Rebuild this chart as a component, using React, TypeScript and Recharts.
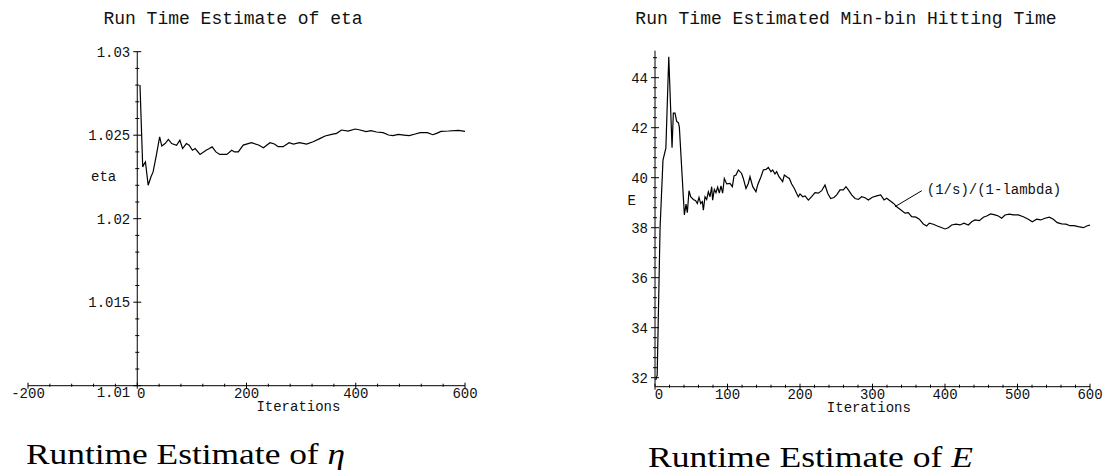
import React from 'react';
import { LineChart, Line, XAxis, YAxis, ReferenceLine, ReferenceDot } from 'recharts';

const MONO = '"Liberation Mono", "DejaVu Sans Mono", monospace';
const SERIF = '"Liberation Serif", "DejaVu Serif", serif';

// left panel: running estimate of eta
const etaIterations = [5, 10, 13, 15, 20, 25, 29, 35, 41, 45, 51, 57, 63, 72, 78, 83, 90, 95, 101, 106, 115, 126, 132, 137, 144, 151, 164, 173, 178, 185, 194, 209, 222, 231, 243, 251, 258, 267, 278, 286, 297, 310, 322, 335, 344, 356, 365, 374, 386, 399, 408, 419, 428, 438, 450, 460, 468, 478, 488, 498, 509, 518, 531, 541, 548, 556, 570, 588, 600];
const etaValues = [1.028, 1.0231, 1.0233, 1.0234, 1.022, 1.0225, 1.0228, 1.0238, 1.0249, 1.02435, 1.0245, 1.02475, 1.0245, 1.0244, 1.0247, 1.0242, 1.0245, 1.0244, 1.0241, 1.0242, 1.02385, 1.0241, 1.0242, 1.0243, 1.024, 1.02385, 1.02385, 1.0241, 1.024, 1.024, 1.02441, 1.02455, 1.02441, 1.02425, 1.02455, 1.02447, 1.02431, 1.02431, 1.02455, 1.02447, 1.02455, 1.02447, 1.02461, 1.02481, 1.02495, 1.02505, 1.02511, 1.02531, 1.02525, 1.02537, 1.02531, 1.02521, 1.02527, 1.02519, 1.02515, 1.02501, 1.02497, 1.02505, 1.02501, 1.02497, 1.02507, 1.02515, 1.02515, 1.02503, 1.02511, 1.02523, 1.02525, 1.02529, 1.02523];

const etaXTicks = [-200, -160, -120, -80, -40, 0, 40, 80, 120, 160, 200, 240, 280, 320, 360, 400, 440, 480, 520, 560, 600];
const etaXMajor = [-200, 0, 200, 400, 600];
const etaYTicks = [1.01, 1.011, 1.012, 1.013, 1.014, 1.015, 1.016, 1.017, 1.018, 1.019, 1.02, 1.021, 1.022, 1.023, 1.024, 1.025, 1.026, 1.027, 1.028, 1.029, 1.03];
const etaYMajor = [1.01, 1.015, 1.02, 1.025, 1.03];

// right panel: running estimate of E
const eIterations = [1, 3, 7, 11, 15, 19, 23.5, 25.3, 27.6, 29.9, 32.2, 33.6, 40.5, 42.8, 44.6, 46.9, 49.2, 52.9, 56.1, 58.4, 60.7, 63, 65.3, 66.7, 69, 71.3, 73.6, 75.9, 78.2, 79.5, 81.8, 84.1, 86.4, 88.7, 91, 93.3, 95.6, 98.9, 103.4, 106.7, 109, 111.7, 115, 119.5, 121.8, 125.5, 128.7, 131, 134.8, 139.3, 141.6, 146.2, 149.4, 153.1, 156.3, 160, 162.3, 165.5, 167.8, 171, 176.1, 178.4, 181.6, 185.3, 188.5, 192.2, 195.4, 197.7, 200, 203.7, 206.9, 211.5, 216.1, 220.7, 225.3, 229.9, 234.5, 238.2, 242.3, 246.9, 250.6, 255.2, 259.8, 263.4, 266.7, 271.3, 275.9, 280.5, 285.1, 289.7, 294.3, 299.8, 305.8, 311.3, 315.9, 319.6, 324.1, 328.7, 334.2, 339.3, 344.8, 349.4, 354, 360, 364.6, 370.1, 374.7, 378.4, 383.9, 389.4, 394, 400, 404.6, 409.2, 415.2, 420.7, 426.2, 432.2, 436.8, 441.4, 447.4, 452.9, 457.5, 463, 469, 473.6, 478.2, 482.8, 488.7, 494.3, 501.1, 508, 514.9, 520.4, 526.4, 532, 537.9, 543.9, 549.4, 554.9, 561, 566.9, 572.4, 577.9, 583.9, 590.8, 596.3, 600];
const eValues = [31.9, 32.1, 38.0, 40.7, 41.18, 44.84, 41.2, 42.58, 42.58, 42.25, 42.2, 42.02, 38.51, 38.94, 38.6, 39.48, 39.24, 39.13, 39.08, 38.97, 39.21, 38.97, 39.04, 38.7, 39.24, 39.13, 39.44, 39.24, 39.64, 39.1, 39.53, 39.4, 39.62, 39.38, 39.67, 39.38, 39.97, 39.75, 39.77, 39.64, 40.07, 40.11, 40.31, 40.17, 39.97, 39.57, 39.77, 40.04, 39.64, 39.44, 39.71, 40.04, 40.31, 40.33, 40.41, 40.24, 40.31, 40.15, 40.24, 40.04, 39.84, 40.11, 40.04, 39.97, 39.75, 39.57, 39.37, 39.24, 39.35, 39.24, 39.27, 39.1, 39.24, 39.4, 39.38, 39.48, 39.71, 39.38, 39.17, 39.21, 39.31, 39.51, 39.51, 39.64, 39.51, 39.31, 39.17, 39.13, 39.24, 39.2, 39.11, 39.22, 39.27, 39.31, 39.11, 39.18, 39.08, 38.98, 38.82, 38.71, 38.58, 38.6, 38.44, 38.42, 38.34, 38.15, 38.07, 38.18, 38.14, 38.07, 38.02, 37.95, 38.0, 38.11, 38.14, 38.11, 38.18, 38.11, 38.24, 38.31, 38.28, 38.42, 38.47, 38.55, 38.51, 38.47, 38.38, 38.51, 38.54, 38.51, 38.51, 38.44, 38.34, 38.24, 38.34, 38.31, 38.38, 38.42, 38.34, 38.2, 38.15, 38.14, 38.08, 38.08, 38.04, 38.0, 38.08, 38.1];

const eXTicks = [0, 20, 40, 60, 80, 100, 120, 140, 160, 180, 200, 220, 240, 260, 280, 300, 320, 340, 360, 380, 400, 420, 440, 460, 480, 500, 520, 540, 560, 580, 600];
const eXMajor = [0, 100, 200, 300, 400, 500, 600];
const eYTicks = [32, 32.4, 32.8, 33.2, 33.6, 34, 34.4, 34.8, 35.2, 35.6, 36, 36.4, 36.8, 37.2, 37.6, 38, 38.4, 38.8, 39.2, 39.6, 40, 40.4, 40.8, 41.2, 41.6, 42, 42.4, 42.8, 43.2, 43.6, 44, 44.4, 44.8];
const eYMajor = [32, 34, 36, 38, 40, 42, 44];

const etaData = etaIterations.map((x, i) => ({ x, y: etaValues[i] }));
const eData = eIterations.map((x, i) => ({ x, y: eValues[i] }));

const INK = '#111';

const makeXTick = (majors: number[]) => (props: any) => {
  const { x, y, payload } = props;
  const v = payload.value;
  const major = majors.includes(v);
  return (
    <g>
      <line x1={x} x2={x} y1={major ? y - 3 : y - 2} y2={major ? y + 3 : y + 1} stroke="#000" />
      {major && (
        <text x={v === 0 ? x + 4 : x} y={y + 12} textAnchor="middle" fontFamily={MONO} fontSize={14} fill={INK}>
          {v}
        </text>
      )}
    </g>
  );
};

const makeYTick = (majors: number[], bottom: number) => (props: any) => {
  const { x, y, payload } = props;
  const v = payload.value;
  const major = majors.includes(v);
  return (
    <g>
      <line x1={major ? x - 4 : x - 2} x2={major ? x + 4 : x + 2} y1={y} y2={y} stroke="#000" />
      {major && (
        <text x={x - 7} y={v === bottom ? y + 11 : y + 5} textAnchor="end" fontFamily={MONO} fontSize={14} fill={INK}>
          {v}
        </text>
      )}
    </g>
  );
};

const etaYTick = makeYTick(etaYMajor, 1.01);

const textShape = (label: string, dx: number, dy: number, anchor: string) => (props: any) => (
  <text x={props.cx + dx} y={props.cy + dy} textAnchor={anchor} fontFamily={MONO} fontSize={14} fill={INK}>
    {label}
  </text>
);

const EtaChart = () => (
  <LineChart width={480} height={420} data={etaData} margin={{ top: 51.7, right: 15, bottom: 4.3, left: 28 }}>
    <XAxis
      dataKey="x"
      type="number"
      domain={[-200, 600]}
      ticks={etaXTicks}
      interval={0}
      tickSize={0}
      tickMargin={0}
      tickLine={false}
      axisLine={{ stroke: '#000' }}
      tick={makeXTick(etaXMajor)}
      height={30}
    />
    <YAxis hide type="number" domain={[1.01, 1.03]} />
    <ReferenceLine
      segment={[{ x: 0, y: 1.01 }, { x: 0, y: 1.03 }]}
      stroke="#000"
      ifOverflow="visible"
    />
    {etaYTicks.map((v) => (
      <ReferenceDot
        key={v}
        x={0}
        y={v}
        ifOverflow="visible"
        shape={(p: any) => etaYTick({ x: p.cx, y: p.cy, payload: { value: v } })}
      />
    ))}
    <ReferenceDot x={0} y={1.0225} ifOverflow="visible" shape={textShape('eta', -21, 4, 'end')} />
    <ReferenceDot x={295} y={1.01} ifOverflow="visible" shape={textShape('Iterations', 0, 25, 'middle')} />
    <Line type="linear" dataKey="y" stroke="#000" strokeWidth={1.2} dot={false} isAnimationActive={false} />
  </LineChart>
);

const EChart = () => (
  <LineChart width={525} height={420} data={eData} margin={{ top: 50.7, right: 15, bottom: 3.3, left: 0 }}>
    <XAxis
      dataKey="x"
      type="number"
      domain={[0, 600]}
      ticks={eXTicks}
      interval={0}
      tickSize={0}
      tickMargin={0}
      tickLine={false}
      axisLine={{ stroke: '#000' }}
      tick={makeXTick(eXMajor)}
      height={30}
    />
    <YAxis
      type="number"
      domain={[31.64, 45.08]}
      ticks={eYTicks}
      interval={0}
      tickSize={0}
      tickMargin={0}
      tickLine={false}
      axisLine={{ stroke: '#000' }}
      tick={makeYTick(eYMajor, -1)}
      width={75}
    />
    <ReferenceDot x={0} y={39.05} ifOverflow="visible" shape={textShape('E', -19, 4, 'end')} />
    <ReferenceDot x={295} y={31.64} ifOverflow="visible" shape={textShape('Iterations', 0, 25, 'middle')} />
    <ReferenceLine
      segment={[{ x: 331, y: 38.84 }, { x: 368, y: 39.48 }]}
      stroke="#000"
      ifOverflow="visible"
    />
    <ReferenceDot x={368} y={39.48} ifOverflow="visible" shape={textShape('(1/s)/(1-lambda)', 5, 3, 'start')} />
    <Line type="linear" dataKey="y" stroke="#000" strokeWidth={1.2} dot={false} isAnimationActive={false} />
  </LineChart>
);

export default function App() {
  return (
    <div style={{ position: 'absolute', left: 0, top: 0, width: 1105, height: 475, background: '#fff' }}>
      <div style={{ position: 'absolute', left: 0, top: 0 }}>
        <EtaChart />
      </div>
      <div style={{ position: 'absolute', left: 580, top: 0 }}>
        <EChart />
      </div>
      <svg width={1105} height={475} style={{ position: 'absolute', left: 0, top: 0, pointerEvents: 'none' }}>
        <text x={233} y={24} textAnchor="middle" fontFamily={MONO} fontSize={18} fill={INK}>
          Run Time Estimate of eta
        </text>
        <text x={846} y={24} textAnchor="middle" fontFamily={MONO} fontSize={18} fill={INK}>
          Run Time Estimated Min-bin Hitting Time
        </text>
        <text x={26} y={464} fontFamily={SERIF} fontSize={30} fill="#000" textLength={319} lengthAdjust="spacingAndGlyphs">
          Runtime Estimate of <tspan fontStyle="italic">η</tspan>
        </text>
        <text x={648} y={467} fontFamily={SERIF} fontSize={30} fill="#000" textLength={325} lengthAdjust="spacingAndGlyphs">
          Runtime Estimate of <tspan fontStyle="italic">E</tspan>
        </text>
      </svg>
    </div>
  );
}
